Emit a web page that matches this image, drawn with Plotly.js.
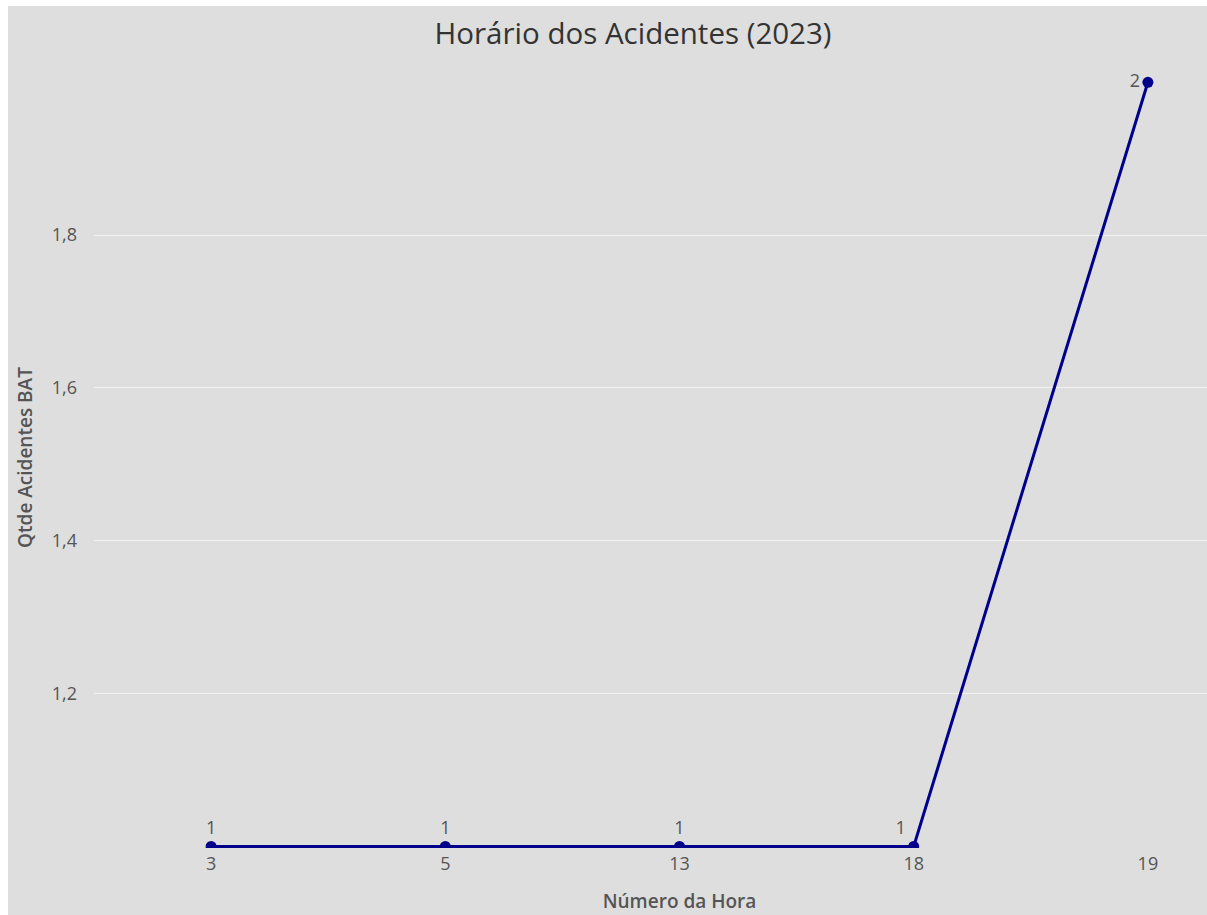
<!DOCTYPE html>
<html>
<head>
<meta charset="utf-8">
<script src="https://cdn.plot.ly/plotly-3.0.1.min.js"></script>
<style>
  html, body { margin: 0; padding: 0; overflow: hidden; background: #ffffff; }
  #chart { position: absolute; left: 8px; top: 6px; width: 1272px; height: 909px; }
</style>
</head>
<body>
<div id="chart"></div>
<script>
// Data
const hours = ["3", "5", "13", "18", "19"];
const accidents = [1, 1, 1, 1, 2];
const yTickVals = [1.2, 1.4, 1.6, 1.8];
const yTickText = ["1,2", "1,4", "1,6", "1,8"];
const chartTitle = "Horário dos Acidentes (2023)";
const xTitle = "Número da Hora";
const yTitle = "Qtde Acidentes BAT";

const trace = {
  type: "scatter",
  mode: "lines+markers+text",
  x: hours,
  y: accidents,
  text: accidents.map(String),
  textposition: ["top center", "top center", "top center", "top left", "middle left"],
  textfont: { family: "Open Sans, sans-serif", size: 18, color: "#555555" },
  line: { color: "#00008B", width: 3 },
  marker: { color: "#00008B", size: 11 },
  cliponaxis: true,
  hoverinfo: "x+y"
};

const layout = {
  width: 1272,
  height: 909,
  paper_bgcolor: "#DEDEDE",
  plot_bgcolor: "#DEDEDE",
  font: { family: "Open Sans, sans-serif", color: "#555555", size: 18 },
  margin: { l: 86, r: 15, t: 61, b: 67, pad: 0 },
  showlegend: false,
  title: {
    text: chartTitle,
    font: { family: "Open Sans, sans-serif", size: 29.5, color: "#333333" },
    xref: "container", x: 0.4914, xanchor: "center",
    yref: "container", y: 0.970, yanchor: "middle"
  },
  xaxis: {
    type: "category",
    range: [-0.5, 4.5],
    showgrid: false,
    zeroline: false,
    showline: false,
    ticks: "",
    tickfont: { size: 18, color: "#555555" },
    ticklabelstandoff: 3,
    title: { text: xTitle, font: { size: 19, color: "#555555", weight: 600 }, standoff: 20 }
  },
  yaxis: {
    range: [0.998, 2.02],
    tickvals: yTickVals,
    ticktext: yTickText,
    showgrid: true,
    gridcolor: "#F2F2F2",
    gridwidth: 1,
    zeroline: false,
    showline: false,
    ticks: "",
    tickfont: { size: 18, color: "#555555" },
    ticklabelstandoff: 16,
    title: { text: yTitle, font: { size: 19, color: "#555555", weight: 600 }, standoff: 14 }
  }
};

Plotly.newPlot("chart", [trace], layout, { displayModeBar: false });
</script>
</body>
</html>
